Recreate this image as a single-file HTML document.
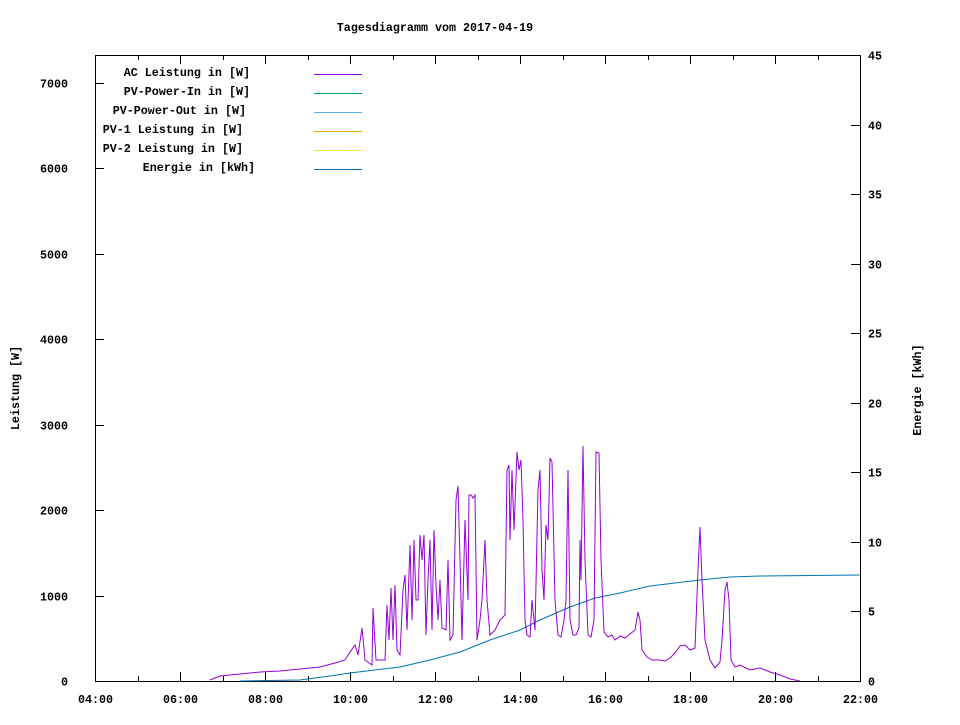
<!DOCTYPE html>
<html><head><meta charset="utf-8"><style>
body{margin:0;background:#fff}
text{font-family:"Liberation Mono",monospace;font-size:11.7px;font-weight:bold;fill:#000}
</style></head><body>
<svg width="960" height="720" xmlns="http://www.w3.org/2000/svg">
<rect width="960" height="720" fill="#fff"/>
<text x="435" y="31" text-anchor="middle">Tagesdiagramm vom 2017-04-19</text>
<rect x="95.5" y="55.5" width="765" height="626" fill="none" stroke="#000" stroke-width="1"/>
<g stroke="#000" stroke-width="1" id="ticks"></g>
<g id="labels"></g>
<text transform="translate(19,388) rotate(-90)" text-anchor="middle">Leistung [W]</text>
<text transform="translate(921,390) rotate(-90)" text-anchor="middle">Energie [kWh]</text>
<text x="250" y="76" text-anchor="end">AC Leistung in [W]</text>
<text x="250" y="95" text-anchor="end">PV-Power-In in [W]</text>
<text x="246" y="114" text-anchor="end">PV-Power-Out in [W]</text>
<text x="243" y="133" text-anchor="end">PV-1 Leistung in [W]</text>
<text x="243" y="152" text-anchor="end">PV-2 Leistung in [W]</text>
<text x="255" y="171" text-anchor="end">Energie in [kWh]</text>
<line x1="314" y1="74.5" x2="362" y2="74.5" stroke="#9400d3"/>
<line x1="314" y1="93.5" x2="362" y2="93.5" stroke="#009e73"/>
<line x1="314" y1="112.5" x2="362" y2="112.5" stroke="#56b4e9"/>
<line x1="314" y1="131.5" x2="362" y2="131.5" stroke="#e69f00"/>
<line x1="314" y1="150.5" x2="362" y2="150.5" stroke="#f0e442"/>
<line x1="314" y1="169.5" x2="362" y2="169.5" stroke="#0072b2"/>
<polyline fill="none" stroke="#0072b2" stroke-width="1" points="240,681 300,680 330,676 350,673 400,667 430,660 460,652 490,640 520,630 540,620 570,607 595,598 620,593 650,586 700,580 730,577 760,576 860,575"/>
<polyline fill="none" stroke="#9400d3" stroke-width="1" points="210,680 220,676 240,674 260,672 280,671 300,669 320,667 335,663 345,660 350,652 355,645 358,655 362,628 365,660 372,665 373,608 376,660 385,660 387,605 389,640 391,588 393,640 395,585 397,650 400,655 403,590 405,575 407,630 410,545 412,620 414,540 416,600 418,600 420,535 422,560 424,535 426,635 428,580 430,540 432,630 434,530 436,585 438,620 440,580 442,628 446,630 448,560 450,640 453,635 456,500 458,486 460,560 462,640 465,520 468,600 469,495 471,495 473,498 475,495 477,640 480,620 482,600 485,540 487,600 490,635 495,630 500,620 505,615 507,470 509,465 510,540 512,470 514,530 517,452 519,470 521,460 523,520 525,620 527,635 530,637 532,600 535,630 538,490 540,470 542,570 544,600 546,525 548,540 550,458 552,462 555,600 558,635 561,637 564,620 566,600 568,470 570,620 573,635 576,635 579,628 580,540 581,580 583,446 585,560 588,635 591,637 594,620 596,452 599,453 601,560 604,632 608,637 612,635 615,640 620,636 625,638 630,634 635,630 638,612 640,620 642,650 647,657 652,660 660,660 665,661 670,658 675,653 680,646 685,645 690,650 695,648 698,570 700,527 702,580 705,640 710,660 715,668 720,662 722,640 725,590 727,582 729,600 731,660 735,667 740,665 750,670 760,668 770,672 780,675 790,679 800,681"/>
</svg>
<script>
var ns="http://www.w3.org/2000/svg",t=document.getElementById("ticks"),l=document.getElementById("labels");
function ln(a,b,c,d){var e=document.createElementNS(ns,"line");e.setAttribute("x1",a);e.setAttribute("y1",b);e.setAttribute("x2",c);e.setAttribute("y2",d);t.appendChild(e);}
function tx(x,y,s,a){var e=document.createElementNS(ns,"text");e.setAttribute("x",x);e.setAttribute("y",y);e.setAttribute("text-anchor",a);e.textContent=s;l.appendChild(e);}
for(var h=0;h<=18;h++){var x=Math.round(95+h*42.5)+0.5;var L=(h%2==0)?9:5;ln(x,681,x,681-L);ln(x,55,x,55+L);
 if(h%2==0){var hh=4+h;tx(x,703,(hh<10?"0":"")+hh+":00","middle");}}
for(var p=0;p<=7;p++){var y=Math.round(681-p*85.45)+0.5;ln(95,y,104,y);tx(68,y+4,String(p*1000),"end");}
for(var k=0;k<=9;k++){var y=Math.round(681-k*5*13.91)+0.5;ln(851,y,860,y);tx(868,y+4,String(k*5),"start");}
</script>
</body></html>
